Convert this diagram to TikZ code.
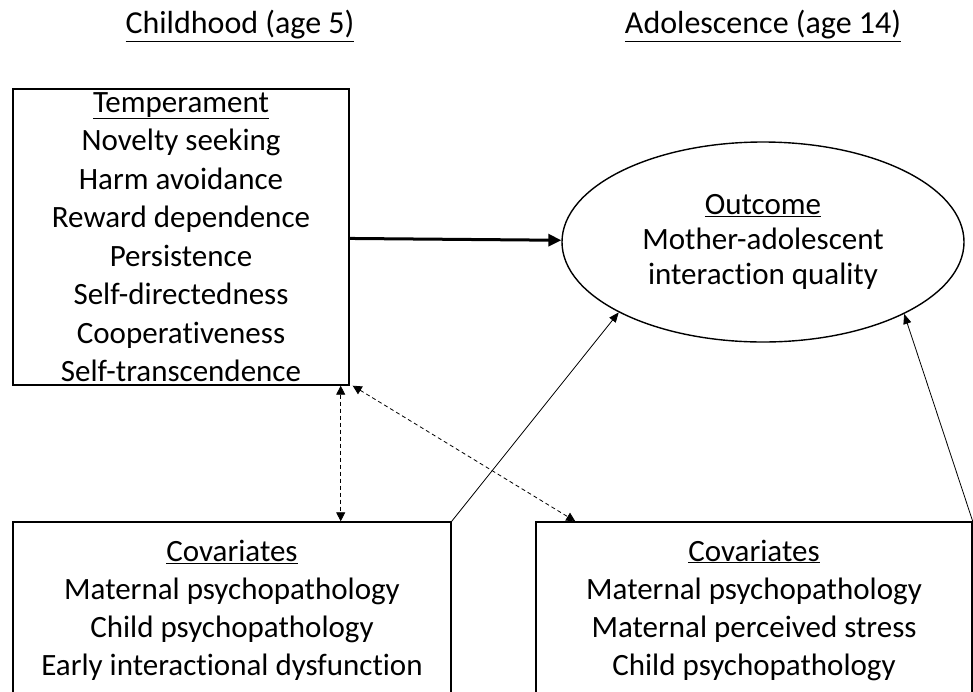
\documentclass[tikz,border=0pt]{standalone}
\usepackage{fontspec}
\setmainfont{Carlito}[Ligatures=NoCommon]
\usetikzlibrary{arrows.meta,shapes.geometric}

\begin{document}
\begin{tikzpicture}[x=1pt,y=-1pt,
    txt/.style={font=\fontsize{31}{38.5}\selectfont, align=center},
    box/.style={txt, draw, line width=1.4pt, inner sep=0pt},
    thinarrow/.style={line width=0.8pt, -{Triangle[length=10pt,width=8pt]}},
    assoc/.style={line width=0.8pt, dash pattern=on 4pt off 3pt,
        {Triangle[length=9pt,width=9pt]}-{Triangle[length=9pt,width=9pt]}}]
    \useasboundingbox (0,0) rectangle (973,691);
    \clip (0,0) rectangle (973,691);

    % Time points
    \node[txt, font=\fontsize{32}{38.5}\selectfont] (childhood) at (240,26) {\underline{Childhood (age 5)}};
    \node[txt, font=\fontsize{32}{38.5}\selectfont] (adolescence) at (763,26) {\underline{Adolescence (age 14)}};

    % Predictor
    \node[box, minimum width=336pt, minimum height=296pt] (temp) at (181,237)
        {\underline{Temperament}\\Novelty seeking\\Harm avoidance\\Reward dependence\\Persistence\\Self-directedness\\Cooperativeness\\Self-transcendence};

    % Outcome
    \node[txt, font=\fontsize{31}{35}\selectfont, draw, ellipse, line width=1.4pt, inner sep=0pt,
        minimum width=402pt, minimum height=200pt] (outcome) at (763,242)
        {\underline{Outcome}\\Mother-adolescent\\interaction quality};

    % Covariates
    \node[box, font=\fontsize{31}{38}\selectfont, minimum width=438pt, minimum height=176pt] (covchild) at (232,610)
        {\underline{Covariates}\\Maternal psychopathology\\Child psychopathology\\Early interactional dysfunction};
    \node[box, font=\fontsize{31}{38}\selectfont, minimum width=436pt, minimum height=176pt] (covadol) at (754,610)
        {\underline{Covariates}\\Maternal psychopathology\\Maternal perceived stress\\Child psychopathology};

    % Paths
    \draw[line width=3pt, -{Triangle[length=13pt,width=12pt]}] (temp) -- (outcome);
    \draw[thinarrow] (covchild.north east) -- (outcome.206);
    \draw[thinarrow] (covadol.north east) -- (outcome.333);
    \draw[assoc] ([xshift=-9pt]temp.south east) -- ([xshift=-9pt]temp.south east |- covchild.north);
    \draw[assoc] ([xshift=3pt]temp.south east) -- ([xshift=40pt]covadol.north west);
\end{tikzpicture}
\end{document}
